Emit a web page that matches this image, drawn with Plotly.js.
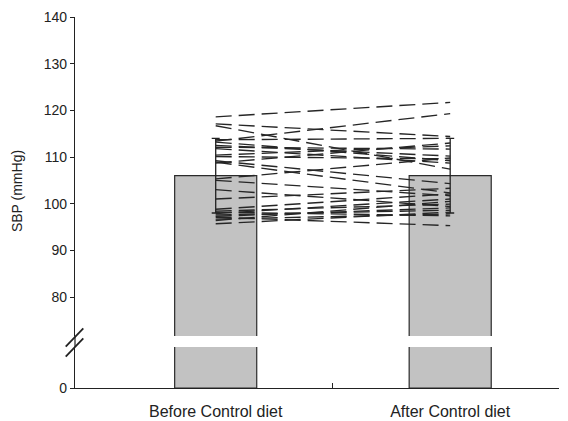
<!DOCTYPE html>
<html>
<head>
<meta charset="utf-8">
<script src="https://cdn.plot.ly/plotly-3.0.1.min.js"></script>
<style>html,body{margin:0;padding:0;background:#fff;}#chart{width:568px;height:421px;}</style>
</head>
<body>
<div id="chart"></div>
<script>
// ---- data ----
const categories = ['Before Control diet', 'After Control diet'];
const meanSBP = [106, 106];
const sdSBP = [8, 8];
// individual subjects: SBP before and after
const sbpBefore = [118.6, 113.4, 117.1, 116.7, 113.7, 113.2, 112.1, 111.8, 110.1, 108.7, 105.3, 108.9, 105.0, 103.0, 101.0, 98.4, 98.2, 97.9, 97.6, 97.3, 97.1, 96.7, 96.4, 95.7, 110.4, 112.5, 109.2, 98.8];
const sbpAfter  = [121.7, 119.3, 114.4, 107.4, 114.0, 109.2, 111.7, 108.7, 109.6, 113.0, 109.8, 102.3, 101.7, 99.4, 103.3, 99.9, 97.4, 101.0, 98.6, 99.1, 95.3, 97.8, 100.5, 98.2, 112.4, 110.2, 104.3, 102.1];
const yTicksUpper = [80, 90, 100, 110, 120, 130, 140];
const yTicksLower = [0];

// ---- traces ----
const xIdx = categories.map((c, i) => i);
const barStyle = {color: '#c2c2c2', line: {color: '#2b2b2b', width: 1.2}};
const traces = [];
traces.push({type: 'bar', x: xIdx, y: meanSBP, xaxis: 'x', yaxis: 'y', width: 0.35,
  marker: barStyle, hoverinfo: 'skip', showlegend: false});
traces.push({type: 'bar', x: xIdx, y: meanSBP, xaxis: 'x', yaxis: 'y2', width: 0.35,
  marker: barStyle, hoverinfo: 'skip', showlegend: false,
  error_y: {type: 'data', array: sdSBP, visible: true, color: '#222', thickness: 1.3, width: 4}});
for (let i = 0; i < sbpBefore.length; i++) {
  traces.push({type: 'scatter', mode: 'lines', x: xIdx, y: [sbpBefore[i], sbpAfter[i]],
    xaxis: 'x', yaxis: 'y2', line: {color: '#262626', width: 1.35, dash: '16px,7px'},
    hoverinfo: 'skip', showlegend: false});
}

const font = {family: 'Liberation Sans, Arial, sans-serif', size: 14, color: '#222'};
const xfont = {family: 'Liberation Sans, Arial, sans-serif', size: 16, color: '#222'};
const lowerTop = 41 / 371, upperBottom = 52 / 371;
const layout = {
  width: 568, height: 421,
  margin: {l: 75, r: 9, t: 17, b: 33},
  paper_bgcolor: '#fff', plot_bgcolor: '#fff',
  font: font,
  showlegend: false,
  bargap: 0,
  xaxis: {
    type: 'linear', range: [-0.6, 1.464], anchor: 'y',
    tickmode: 'array', tickvals: xIdx, ticktext: categories, ticks: '',
    showline: true, linecolor: '#222', linewidth: 1.2, zeroline: false, showgrid: false,
    ticklabelstandoff: 9, tickfont: xfont,
    minor: {tickmode: 'array', tickvals: [0.5], ticks: 'inside', ticklen: 5, tickcolor: '#222', tickwidth: 1, showgrid: false}
  },
  yaxis: {
    domain: [0, lowerTop], range: [0, 10], anchor: 'x',
    tickmode: 'array', tickvals: yTicksLower, ticktext: yTicksLower.map(String),
    ticks: 'outside', ticklen: 4, tickcolor: '#222', tickwidth: 1,
    showline: true, linecolor: '#222', linewidth: 1.2, zeroline: false, showgrid: false, tickfont: font
  },
  yaxis2: {
    domain: [upperBottom, 1], range: [71.65, 140], anchor: 'x',
    tickmode: 'array', tickvals: yTicksUpper, ticktext: yTicksUpper.map(String),
    ticks: 'outside', ticklen: 4, tickcolor: '#222', tickwidth: 1,
    showline: true, linecolor: '#222', linewidth: 1.2, zeroline: false, showgrid: false, tickfont: font
  },
  annotations: [{
    text: 'SBP (mmHg)', textangle: -90, showarrow: false,
    xref: 'paper', yref: 'paper', x: -0.1196, y: 0.531, xanchor: 'center', yanchor: 'middle',
    font: font
  }],
  shapes: [
    // axis line through the break
    {type: 'line', xref: 'paper', yref: 'paper', x0: 0, x1: 0, y0: lowerTop, y1: upperBottom,
     line: {color: '#222', width: 1.2}},
    // break marks
    {type: 'line', xref: 'paper', yref: 'paper', xsizemode: 'pixel', ysizemode: 'pixel',
     xanchor: 0, yanchor: 0.1253, x0: -9.3, x1: 8.3, y0: -5.2, y1: 13.2, line: {color: '#222', width: 1.8}},
    {type: 'line', xref: 'paper', yref: 'paper', xsizemode: 'pixel', ysizemode: 'pixel',
     xanchor: 0, yanchor: 0.1253, x0: -9.3, x1: 8.3, y0: -15.2, y1: 3.2, line: {color: '#222', width: 1.8}}
  ]
};

Plotly.newPlot('chart', traces, layout, {displayModeBar: false, staticPlot: true});
</script>
</body>
</html>
